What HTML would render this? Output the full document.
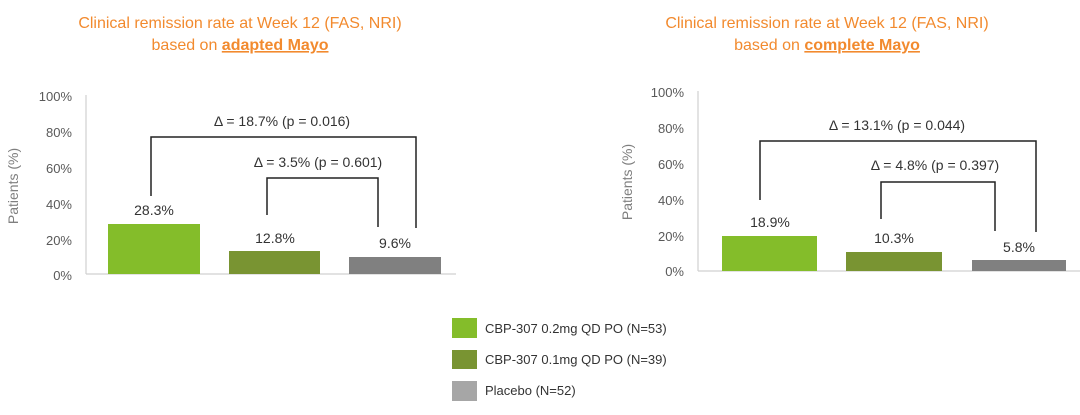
<!DOCTYPE html><html><head><style>body{margin:0;background:#fff}</style></head><body>
<svg width="1080" height="410" xmlns="http://www.w3.org/2000/svg" font-family="Liberation Sans, sans-serif">
<g fill="#F28A2E" font-size="16" text-anchor="middle">
<text x="240" y="28">Clinical remission rate at Week 12 (FAS, NRI)</text>
<text x="240" y="50">based on <tspan font-weight="bold" text-decoration="underline">adapted Mayo</tspan></text>
<text x="827" y="28">Clinical remission rate at Week 12 (FAS, NRI)</text>
<text x="827" y="50">based on <tspan font-weight="bold" text-decoration="underline">complete Mayo</tspan></text>
</g>
<g fill="#595959" font-size="13" text-anchor="end">
<text x="72" y="101">100%</text><text x="72" y="137">80%</text><text x="72" y="173">60%</text><text x="72" y="209">40%</text><text x="72" y="245">20%</text><text x="72" y="280">0%</text>
<text x="684" y="97">100%</text><text x="684" y="133">80%</text><text x="684" y="169">60%</text><text x="684" y="205">40%</text><text x="684" y="241">20%</text><text x="684" y="276">0%</text>
</g>
<g fill="#7f7f7f" font-size="14" text-anchor="middle">
<text transform="translate(18,186) rotate(-90)">Patients (%)</text>
<text transform="translate(632,182) rotate(-90)">Patients (%)</text>
</g>
<g stroke="#d0d0d0" stroke-width="1.2">
<line x1="86" y1="95" x2="86" y2="274"/><line x1="86" y1="274" x2="456" y2="274"/>
<line x1="698" y1="91" x2="698" y2="271"/><line x1="698" y1="271" x2="1080" y2="271"/>
</g>
<rect x="108" y="224" width="92" height="50" fill="#84BD2A"/>
<rect x="229" y="251" width="91" height="23" fill="#799432"/>
<rect x="349" y="257" width="92" height="17" fill="#808080"/>
<rect x="722" y="236" width="95" height="35" fill="#84BD2A"/>
<rect x="846" y="252" width="96" height="19" fill="#799432"/>
<rect x="972" y="260" width="94" height="11" fill="#808080"/>
<g fill="none" stroke="#222" stroke-width="1.5">
<polyline points="151,196 151,137 416,137 416,228"/>
<polyline points="267,215 267,178 378,178 378,227"/>
<polyline points="760,200 760,141 1036,141 1036,232"/>
<polyline points="881,219 881,182 995,182 995,231"/>
</g>
<g fill="#333" font-size="14" text-anchor="middle">
<text x="282" y="126">Δ = 18.7% (p = 0.016)</text>
<text x="318" y="167">Δ = 3.5% (p = 0.601)</text>
<text x="154" y="215">28.3%</text><text x="275" y="243">12.8%</text><text x="395" y="248">9.6%</text>
<text x="897" y="130">Δ = 13.1% (p = 0.044)</text>
<text x="935" y="170">Δ = 4.8% (p = 0.397)</text>
<text x="770" y="227">18.9%</text><text x="894" y="243">10.3%</text><text x="1019" y="252">5.8%</text>
</g>
<rect x="452" y="318" width="25" height="20" fill="#84BD2A"/>
<rect x="452" y="350" width="25" height="19" fill="#799432"/>
<rect x="452" y="381" width="25" height="20" fill="#A6A6A6"/>
<g fill="#333" font-size="13">
<text x="485" y="333">CBP-307 0.2mg QD PO (N=53)</text>
<text x="485" y="364">CBP-307 0.1mg QD PO (N=39)</text>
<text x="485" y="395">Placebo (N=52)</text>
</g>
</svg></body></html>
